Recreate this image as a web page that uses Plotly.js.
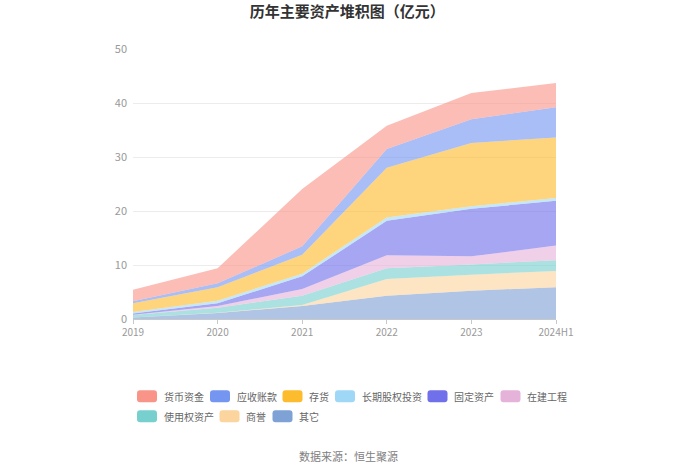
<!DOCTYPE html>
<html>
<head>
<meta charset="utf-8">
<script src="https://cdn.plot.ly/plotly-3.0.1.min.js"></script>
<style>html,body{margin:0;padding:0;background:#fff;}#chart{width:700px;height:474px;}</style>
</head>
<body>
<div id="chart"></div>
<script>
// Data (亿元), bottom-to-top stacking order
var years = ['2019', '2020', '2021', '2022', '2023', '2024H1'];
var other      = [0.30, 1.10, 2.40, 4.30, 5.25, 5.90];   // 其它
var goodwill   = [0.00, 0.05, 0.20, 3.10, 2.95, 3.00];   // 商誉
var rightOfUse = [0.45, 0.95, 1.70, 2.00, 1.90, 2.00];   // 使用权资产
var construct  = [0.05, 0.30, 1.26, 2.40, 1.50, 2.70];   // 在建工程
var fixedAsset = [0.20, 0.50, 2.34, 6.40, 8.80, 8.30];   // 固定资产
var equityInv  = [0.30, 0.50, 0.50, 0.60, 0.50, 0.50];   // 长期股权投资
var inventory  = [1.60, 2.50, 3.50, 9.20, 11.70, 11.20]; // 存货
var receivable = [0.40, 0.70, 1.56, 3.50, 4.40, 5.60];   // 应收账款
var cash       = [2.10, 2.80, 10.60, 4.30, 4.85, 4.50];  // 货币资金
var yTicks = [0, 10, 20, 30, 40, 50];

var stackNames = ['其它', '商誉', '使用权资产', '在建工程', '固定资产', '长期股权投资', '存货', '应收账款', '货币资金'];
var stackValues = [other, goodwill, rightOfUse, construct, fixedAsset, equityInv, inventory, receivable, cash];
var colorMap = {
  '货币资金': [248, 149, 136],
  '应收账款': [116, 150, 240],
  '存货': [253, 188, 45],
  '长期股权投资': [159, 216, 247],
  '固定资产': [112, 112, 234],
  '在建工程': [229, 179, 218],
  '使用权资产': [120, 208, 206],
  '商誉': [252, 212, 157],
  '其它': [127, 162, 214]
};
var legendOrder = ['货币资金', '应收账款', '存货', '长期股权投资', '固定资产', '在建工程', '使用权资产', '商誉', '其它'];

function rgb(c) { return 'rgb(' + c.join(',') + ')'; }
function rgba(c, a) { return 'rgba(' + c.join(',') + ',' + a + ')'; }

var traces = stackNames.map(function (n, i) {
  return {
    type: 'scatter', mode: 'lines', name: n,
    x: years, y: stackValues[i],
    stackgroup: 'assets',
    line: { width: 0, shape: 'linear' },
    fillcolor: rgba(colorMap[n], 0.62),
    hoverinfo: 'x+y+name',
    showlegend: false
  };
});

// plot area in pixels
var L = 133, R = 556, T = 48.5, B = 319.5, W = 700, H = 474;
function px2x(p) { return (p - L) / (R - L); }
function py2y(p) { return (B - p) / (B - T); }

// custom legend layout (pixels of swatch left edge, row center)
var legendPos = [
  [137, 397], [210, 397], [282.5, 397], [335, 397], [427.5, 397], [500.5, 397],
  [137, 417], [219.5, 417], [272.5, 417]
];
var shapes = [], annotations = [];
var rr = 'M-7,-6 H7 Q10,-6 10,-3 V3 Q10,6 7,6 H-7 Q-10,6 -10,3 V-3 Q-10,-6 -7,-6 Z';
legendOrder.forEach(function (n, i) {
  var p = legendPos[i];
  shapes.push({
    type: 'path', xref: 'paper', yref: 'paper',
    xsizemode: 'pixel', ysizemode: 'pixel',
    xanchor: px2x(p[0] + 10), yanchor: py2y(p[1]),
    path: rr, fillcolor: rgb(colorMap[n]), line: { width: 0 }
  });
  annotations.push({
    xref: 'paper', yref: 'paper', x: px2x(p[0] + 24.5), y: py2y(p[1]),
    xanchor: 'left', yanchor: 'middle', showarrow: false, text: n,
    font: { family: 'Noto Sans CJK SC, sans-serif', size: 10, color: '#666' }
  });
});
annotations.push({
  xref: 'paper', yref: 'paper', x: px2x(348), y: py2y(457),
  xanchor: 'center', yanchor: 'middle', showarrow: false,
  text: '数据来源：恒生聚源',
  font: { family: 'Noto Sans CJK SC, sans-serif', size: 11, color: '#808080' }
});

var layout = {
  width: W, height: H,
  margin: { l: L, r: W - R, t: T, b: H - B, pad: 0 },
  paper_bgcolor: '#fff', plot_bgcolor: '#fff',
  font: { family: 'Noto Sans CJK SC, sans-serif', color: '#999' },
  title: {
    text: '<b>历年主要资产堆积图（亿元）</b>',
    x: 0.496, xanchor: 'center', xref: 'container',
    y: 1 - 12 / H, yanchor: 'middle', yref: 'container',
    font: { family: 'Noto Sans CJK SC, sans-serif', size: 15, color: '#333' }
  },
  xaxis: {
    type: 'category', range: [0, years.length - 1],
    showgrid: false, zeroline: false,
    showline: true, linecolor: '#c8c8c8', linewidth: 1,
    ticks: 'outside', ticklen: 4, tickcolor: '#c8c8c8',
    tickfont: { size: 10, color: '#999' },
    fixedrange: true
  },
  yaxis: {
    range: [0, 50], tickvals: yTicks, ticktext: yTicks.map(String),
    showgrid: true, gridcolor: '#ececec', gridwidth: 1,
    zeroline: false, showline: false, ticks: '',
    ticklabelstandoff: 5,
    tickfont: { size: 11, color: '#999' },
    fixedrange: true
  },
  showlegend: false,
  shapes: shapes,
  annotations: annotations
};

Plotly.newPlot('chart', traces, layout, { displayModeBar: false, staticPlot: true });
</script>
</body>
</html>
